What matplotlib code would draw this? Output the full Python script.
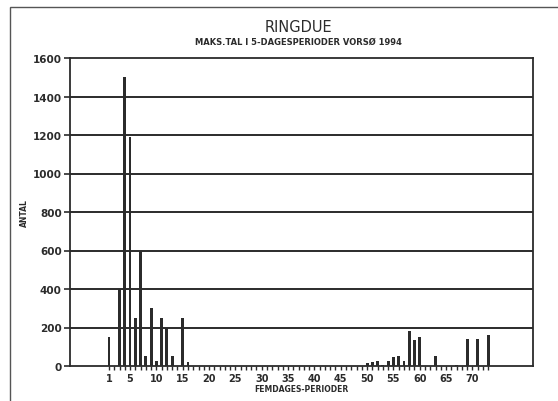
import matplotlib.pyplot as plt
from matplotlib.patches import Rectangle

periods = [1, 3, 4, 5, 6, 7, 8, 9, 10, 11, 12, 13, 15, 16,
           50, 51, 52, 53, 54, 55, 56, 57, 58, 59, 60, 63, 67, 69, 71, 73]
antal = [150, 400, 1500, 1190, 250, 600, 50, 300, 25, 250, 200, 50, 250, 20,
         18, 20, 25, 5, 25, 45, 50, 25, 180, 135, 150, 50, 5, 140, 140, 160]

xtick_labels = [1, 5, 10, 15, 20, 25, 30, 35, 40, 45, 50, 55, 60, 65, 70]
yticks = [0, 200, 400, 600, 800, 1000, 1200, 1400, 1600]

ink = '#2b2b2b'
plt.rcParams['font.family'] = 'DejaVu Sans'

fig = plt.figure(figsize=(5.58, 4.02), dpi=100)
ax = fig.add_axes([70 / 558, 1 - 367 / 402, 463 / 558, 308 / 402])

ax.bar(periods, antal, width=0.55, color=ink, zorder=3)

for y in yticks[1:-1]:
    ax.axhline(y, color=ink, lw=1.4, zorder=1)

ax.set_xlim(-6.4, 81.5)
ax.set_ylim(0, 1600)

ax.set_yticks(yticks)
ax.set_yticklabels([str(v) for v in yticks], fontsize=7.5, fontweight='bold', color=ink)
ax.set_xticks(list(range(1, 74)), minor=True)
ax.set_xticks(xtick_labels)
ax.set_xticklabels([str(v) for v in xtick_labels], fontsize=7, fontweight='bold', color=ink)
ax.tick_params(axis='y', direction='out', length=4, width=1.2, color=ink, pad=2)
ax.tick_params(axis='x', which='both', direction='out', length=3, width=1, color=ink, pad=2)

for s in ax.spines.values():
    s.set_color(ink)
    s.set_linewidth(1.3)

ax.set_ylabel('ANTAL', fontsize=5.5, fontweight='bold', color=ink)
ax.yaxis.set_label_coords(-0.088, 0.5)
ax.set_xlabel('FEMDAGES-PERIODER', fontsize=5.5, fontweight='bold', color=ink, labelpad=1)

fig.text(298 / 558, 1 - 27 / 402, 'RINGDUE', ha='center', va='center',
         fontsize=10.5, color=ink)
fig.text(298 / 558, 1 - 42 / 402, 'MAKS.TAL I 5-DAGESPERIODER VORSØ 1994',
         ha='center', va='center', fontsize=6, fontweight='bold', color=ink)

# outer frame of the scanned page
fig.patches.append(Rectangle((10 / 558, -0.05), 1.1, 1 - 8 / 402 + 0.05,
                             transform=fig.transFigure, fill=False,
                             edgecolor='#555555', lw=1.0))

fig.savefig('out.png', dpi=100)
